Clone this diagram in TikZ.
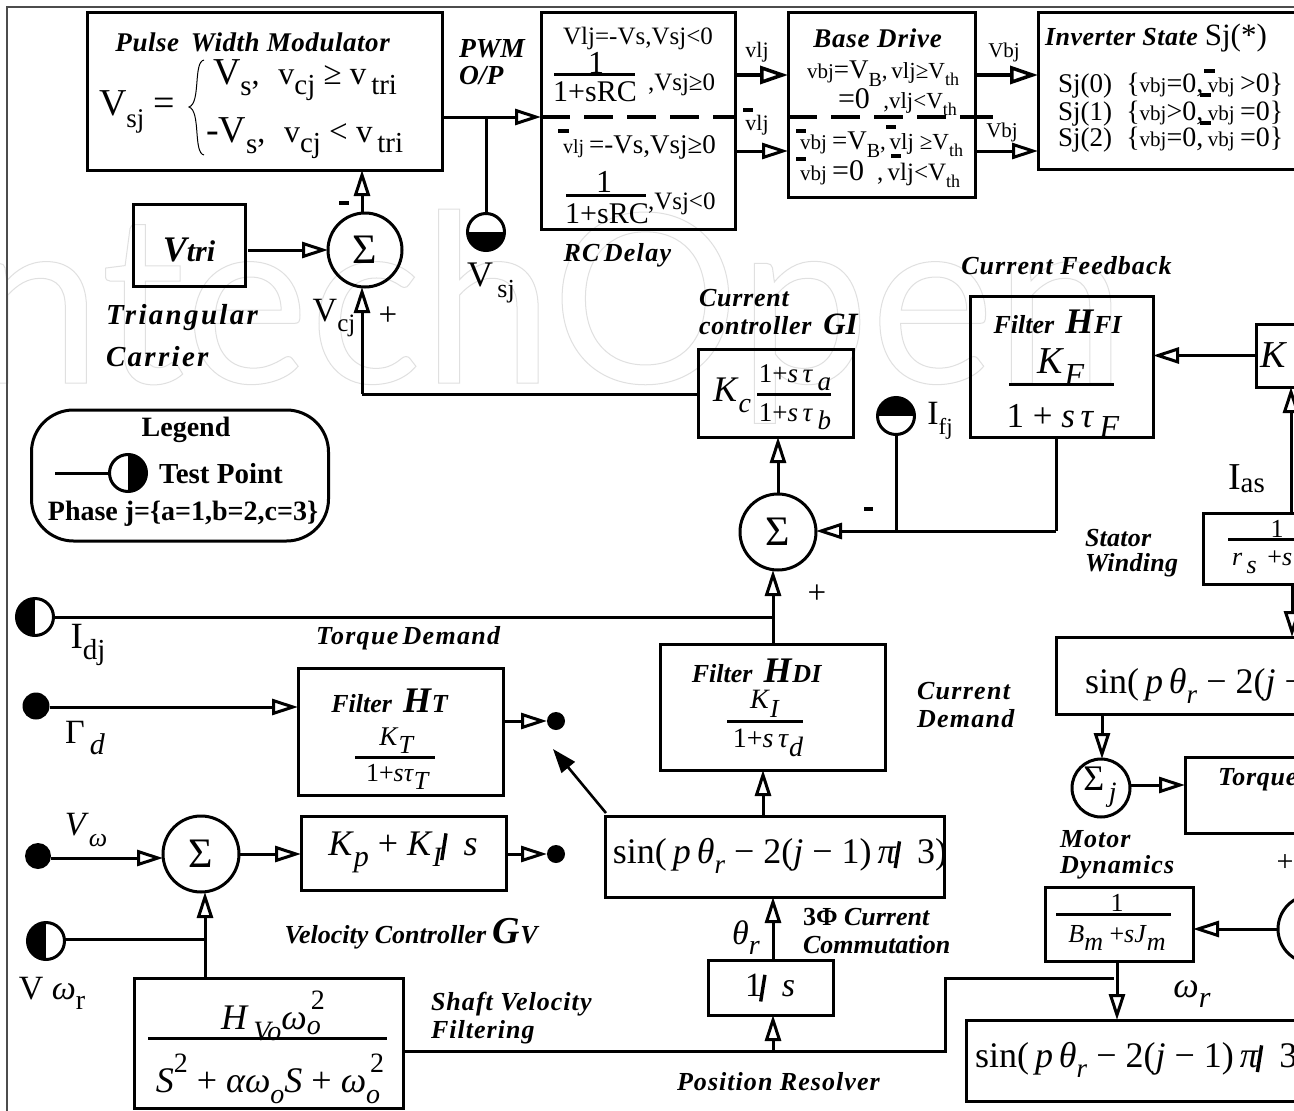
\documentclass[tikz,border=0pt]{standalone}
\usepackage{fontspec}
\setmainfont{Liberation Serif}
\newfontfamily\wmfont{Lato}
\usetikzlibrary{arrows.meta}
\newcommand\fz[1]{\fontsize{#1}{#1}\selectfont}
\newcommand\lo[2]{\raisebox{-.3em}{\fz{#1}#2}}
\newcommand\hi[2]{\raisebox{.55em}{\fz{#1}#2}}
\newcommand\bi[1]{\textbf{\textit{#1}}}
\newcommand\bl[2]{\textbf{\textit{\addfontfeatures{LetterSpace=#1}#2}}}
\newcommand\myslash{\hspace{-3pt}\rotatebox[origin=c]{-9}{\rule[-5pt]{3.4pt}{27pt}}\hspace{1pt}}
\tikzset{
 x=1pt,y=-1pt,
 blk/.style={draw,line width=3pt,inner sep=0pt,outer sep=0pt},
 sumn/.style={draw,circle,line width=3pt,inner sep=0pt,outer sep=0pt,font=\fz{42}},
 txt/.style={inner sep=0pt,outer sep=0pt,align=center},
 txl/.style={inner sep=0pt,outer sep=0pt,align=left,anchor=west},
 wire/.style={line width=3pt},
 arr/.style={line width=3pt,-{Triangle[open,length=26pt,width=16pt,line width=3pt]}},
 arrb/.style={line width=4.5pt,-{Triangle[open,length=28pt,width=18pt,line width=3.5pt]}},
 solidarr/.style={line width=2.6pt,-{Triangle[length=24pt,width=17pt]}},
 dsh/.style={line width=3.5pt,dash pattern=on 29pt off 14pt},
 fbar/.style={line width=3pt},
 ovb/.style={line width=3.2pt},
 tp/.style={draw,circle,line width=3pt,inner sep=0pt,outer sep=0pt,minimum size=37pt},
 tpb/.style={tp,path picture={\fill (path picture bounding box.west) rectangle (path picture bounding box.south east);}},
 tpu/.style={tp,path picture={\fill (path picture bounding box.north west) rectangle (path picture bounding box.east);}},
 tpl/.style={tp,path picture={\fill (path picture bounding box.north west) rectangle (path picture bounding box.south);}},
 tpr/.style={tp,path picture={\fill (path picture bounding box.north) rectangle (path picture bounding box.south east);}},
 dotn/.style={circle,fill=black,inner sep=0pt,outer sep=0pt},
 frame/.style={draw=black!70,line width=1.5pt}
}
\begin{document}
\begin{tikzpicture}
\clip (0,0) rectangle (1294,1111);
\fill[white] (0,0) rectangle (1294,1111);
% watermark
\node[anchor=base west,inner sep=0pt,text=black!14] (wm) at (-30,383) {\special{pdf:code q 1 Tr 1 w 0.88 0.88 0.88 RG}\wmfont\fz{236}ntechOpen\special{pdf:code Q}};
% frame
\coordinate (fa) at (7,1120); \coordinate (fb) at (7,7); \coordinate (fc) at (1300,7);
\draw[frame] (fa) -- (fb) -- (fc);

% boxes
\node[blk,minimum width=355pt,minimum height=158pt] (pwm) at (264.5,91) {};
\node[blk,minimum width=194pt,minimum height=217pt] (rc) at (638,120.5) {};
\node[blk,minimum width=187pt,minimum height=185pt] (bd) at (881.5,104.5) {};
\node[blk,minimum width=270pt,minimum height=157pt] (inv) at (1173,90.5) {};
\node[blk,minimum width=112pt,minimum height=82pt] (tri) at (189,245) {};
\node[sumn,minimum size=74pt] (s1) at (365,250) {Σ};
\node[tpb] (tpv) at (486,232) {};
\node[blk,minimum width=155pt,minimum height=88pt] (gi) at (775.5,393) {};
\node[blk,minimum width=183pt,minimum height=141pt] (hfi) at (1061.5,366.5) {};
\node[blk,minimum width=60pt,minimum height=63pt] (kb) at (1286,355.5) {};
\node[tpu] (tpi) at (896,416) {};
\node[sumn,minimum size=76pt] (s2) at (778,532) {Σ};
\node[blk,minimum width=120pt,minimum height=71pt] (st) at (1263,548.5) {};
\node[blk,minimum width=300pt,minimum height=77pt] (sr) at (1206,675.5) {};
\node[tpl] (tpd) at (35,617) {};
\node[blk,minimum width=225pt,minimum height=126pt] (hdi) at (772.5,707) {};
\node[blk,minimum width=205pt,minimum height=127pt] (ht) at (400.5,731.5) {};
\node[dotn,minimum size=27pt] (dg) at (36,706) {};
\node[dotn,minimum size=18pt] (dt) at (556,721) {};
\node[dotn,minimum size=26pt] (dw) at (38,856) {};
\node[sumn,minimum size=76pt] (s3) at (201,854) {Σ};
\node[blk,minimum width=205pt,minimum height=74pt] (kp) at (403.5,853) {};
\node[dotn,minimum size=18pt] (dk) at (556,854) {};
\node[tpl] (tpw) at (46,941) {};
\node[blk,minimum width=269pt,minimum height=130pt] (hv) at (268.5,1043) {};
\node[blk,minimum width=339pt,minimum height=81pt] (sm) at (774.5,856.5) {};
\node[blk,minimum width=125pt,minimum height=55pt] (int) at (770.5,987.5) {};
\node[sumn,minimum size=58pt] (s4) at (1101,788) {};
\node[blk,minimum width=150pt,minimum height=76pt] (tq) at (1260,795) {};
\node[blk,minimum width=148pt,minimum height=74pt] (md) at (1119,924) {};
\node[sumn,minimum size=68pt] (s5) at (1312,929) {};
\node[blk,minimum width=360pt,minimum height=81pt] (sb) at (1146,1060.5) {};
\node[draw,line width=3pt,rounded corners=42pt,inner sep=0pt,outer sep=0pt,minimum width=297pt,minimum height=131pt] (leg) at (180,475.5) {};
\node[tpr] (tpk) at (128,473) {};

% helper coordinates
\coordinate (j1) at (486,117);
\coordinate (rcw) at (541,117);
\coordinate (gil) at (362,394);
\coordinate (j2) at (1056,531);
\coordinate (j3) at (896,531);
\coordinate (j4) at (773,617);
\coordinate (hvo) at (403,1051);
\coordinate (j5) at (773,1051);
\coordinate (j6) at (945,1051);
\coordinate (j7) at (945,978);
\coordinate (j8) at (1114,978);
\coordinate (j9) at (205,939);
\coordinate (legw) at (55,473);
\coordinate (tail) at (606,813);
\coordinate (head) at (553,749);

% connectors
\draw[arr] (pwm.east |- j1) -- (rc.west |- j1);
\draw[wire] (j1) -- (tpv.north);
\draw[arr] (s1.north -| 362,0) -- (pwm.south -| 362,0);
\draw[arr] (tri.east) ++(3,5) -- (s1.west);
\draw[wire] (gi.west |- gil) -- (gil);
\draw[arr] (gil) -- (s1.south -| gil);
\draw[arrb] (rc.east |- 0,75) -- (bd.west |- 0,75);
\draw[arr] (rc.east |- 0,151) -- (bd.west |- 0,151);
\draw[arrb] (bd.east |- 0,75) -- (inv.west |- 0,75);
\draw[arr] (bd.east |- 0,151) -- (inv.west |- 0,151);
\draw[dsh] (rc.west |- j1) -- (rc.east |- j1);
\draw[dsh] (bd.west |- j1) -- (993,117);

\draw[arr] (kb.west) -- (hfi.east |- kb.west);
\draw[arr] (1291,513) -- (1291,387);
\draw[arr] (1292,584) -- (1292,637);
\draw[wire] (hfi.south -| j2) -- (j2);
\draw[arr] (j2) -- (s2.east |- j2);
\draw[wire] (j3) -- (tpi.south);
\draw[arr] (s2.north) -- (gi.south -| s2.north);
\draw[wire] (tpd.east) -- (j4);
\draw[arr] (hdi.north -| j4) -- (s2.south -| j4);
\draw[arr] (sm.north -| 763,0) -- (hdi.south -| 763,0);
\draw[solidarr] (tail) -- (head);
\draw[arr] (dg.east |- 0,707) -- (ht.west |- 0,707);
\draw[arr] (ht.east |- dt) ++(2,0) -- (dt.west);
\draw[arr] (dw.east |- 0,858) -- (s3.west |- 0,858);
\draw[arr] (s3.east) -- (kp.west |- s3.east);
\draw[arr] (kp.east |- dk) ++(2,0) -- (dk.west);
\draw[wire] (tpw.east |- j9) -- (j9);
\draw[arr] (hv.north -| j9) -- (s3.south -| j9);
\draw[wire] (hvo) -- (j6) -- (j7) -- (j8);
\draw[arr] (j5) -- (int.south -| j5);
\draw[arr] (int.north -| j5) -- (sm.south -| j5);
\draw[arr] (1102,716) -- (s4.north -| 1102,0);
\draw[arr] (s4.east |- 0,785) -- (tq.west |- 0,785);
\draw[arr] (s5.west) -- (md.east |- s5.west);
\draw[arr] (md.south -| 1117,0) -- (sb.north -| 1117,0);
\draw[wire] (legw) -- (tpk.west);

% text: top row
\node[txt] (t1) at (253,42) {\fz{27}\bl{2}{Pulse\, Width Modulator}};
\node[txl] (t2) at (99,112) {\fz{38}V\lo{27}{sj} =};
\draw[line width=1pt] (204,60) .. controls (193,62) and (201,103) .. (189,107) .. controls (201,111) and (193,153) .. (204,155);
\node[txl] (t3) at (213,80) {\fz{38}V\lo{29}{s}\fz{32},\, \,v\lo{29}{cj}\fz{33} ≥ v\lo{29}{\,tri}};
\node[txl] (t4) at (206,138) {\fz{38}-V\lo{29}{s}\fz{32},\, \,v\lo{29}{cj}\fz{33} < v\lo{29}{\,tri}};
\node[txl] (t5) at (459,49) {\fz{27.5}\bi{PWM}};
\node[txl] (t6) at (459,76) {\fz{27.5}\bi{O/P}};
\node[txt] (t7) at (638,38) {\fz{25}Vlj=-Vs,Vsj<0};
\node[txt] (t8) at (596,63) {\fz{32}1};
\draw[fbar] (554,74) -- (635,74);
\node[txt] (t9) at (595,92) {\fz{30}1+sRC};
\node[txl] (t10) at (648,85) {\fz{25},Vsj≥0};
\draw[ovb] (558,131) -- (569,131);
\node[txl] (t11) at (563,147) {\fz{20}vlj \fz{27}=-Vs,Vsj≥0};
\node[txt] (t12) at (604,182) {\fz{32}1};
\draw[fbar] (566,195) -- (646,195);
\node[txt] (t13) at (607,214) {\fz{30}1+sRC};
\node[txl] (t14) at (648,204) {\fz{25},Vsj<0};
\node[txt] (t15) at (618,255) {\fz{26}\bl{5}{RC\,Delay}};
\node[txt] (t16) at (491,283) {\fz{36}V\lo{26}{\,sj}};
\node[txt] (t17) at (757,52) {\fz{22}vlj};
\draw[ovb] (743,110) -- (753,110);
\node[txt] (t18) at (757,125) {\fz{22}vlj};
\node[txt] (t19) at (878,38) {\fz{27}\bl{3}{Base Drive}};
\node[txl] (t20) at (807,74) {\fz{21}vbj\fz{27}=V\lo{20}{B}\fz{23},\,vlj≥V\lo{18}{th}};
\node[txl] (t21) at (838,102) {\fz{30}=0\fz{23}\,\, ,vlj<V\lo{18}{th}};
\draw[ovb] (796,131) -- (806,131);
\draw[ovb] (886,127) -- (896,127);
\draw[ovb] (891,156) -- (901,156);
\draw[ovb] (796,159) -- (806,159);
\node[txl] (t22) at (800,145) {\fz{21}vbj \fz{27}=V\lo{20}{B}\fz{23},\,vlj ≥V\lo{18}{th}};
\node[txl] (t23) at (800,174) {\fz{21}vbj \fz{30}=0\fz{25}\; ,\,vlj<V\lo{18}{th}};
\node[txt] (t24) at (1004,52) {\fz{21}Vbj};
\draw[ovb] (982,117) -- (993,117);
\node[txt] (t25) at (1002,132) {\fz{21}Vbj};
\node[txl] (t26) at (1045,38) {\fz{26}\bl{2}{Inverter State} \fz{31}Sj(*)};
\draw[ovb] (1204,71) -- (1215,71);
\draw[ovb] (1200,95) -- (1211,95);
\draw[ovb] (1200,123) -- (1211,123);
\node[txl] (t27) at (1058,86) {\fz{27}Sj(0)\; \fz{28}\{\fz{21}vbj\fz{28}=0,\,\fz{21}vbj \fz{28}>0\}};
\node[txl] (t28) at (1058,114) {\fz{27}Sj(1)\; \fz{28}\{\fz{21}vbj\fz{28}>0,\,\fz{21}vbj \fz{28}=0\}};
\node[txl] (t29) at (1058,140) {\fz{27}Sj(2)\; \fz{28}\{\fz{21}vbj\fz{28}=0,\,\fz{21}vbj \fz{28}=0\}};

% upper-left
\node[txt] (t30) at (189,250) {\fz{36}\bi{V\fz{30}tri}};
\draw[ovb] (339,203) -- (349,203);
\node[txl] (t31) at (106,318) {\fz{29}\bl{8}{Triangular}};
\node[txl] (t32) at (106,357) {\fz{29}\bl{8}{Carrier}};
\node[txt] (t33) at (334,318) {\fz{34}V\lo{25}{cj}};
\node[txt] (t34) at (388,316) {\fz{33}+};
\node[txt] (t35) at (186,430) {\fz{28}\textbf{Legend}};
\node[txt] (t36) at (221,474) {\fz{29}\textbf{Test Point}};
\node[txt] (t37) at (183,514) {\fz{28}\textbf{Phase j=\{a=1,b=2,c=3\}}};

% current controller
\node[txl] (t38) at (699,298) {\fz{26}\bl{3}{Current}};
\node[txl] (t39) at (699,324) {\fz{26}\bl{3}{controller}\, \fz{31}\bi{GI}};
\node[txl] (t40) at (713,395) {\fz{36}\textit{K}\lo{28}{\textit{c}}};
\node[txt] (t41) at (795,378) {\fz{27}1+\textit{s}\,\textit{τ}\lo{27}{\textit{\,a}}};
\draw[fbar] (757,394) -- (831,394);
\node[txt] (t42) at (795,417) {\fz{27}1+\textit{s}\,\textit{τ}\lo{27}{\textit{\,b}}};
\node[txt] (t43) at (940,421) {\fz{34}I\lo{23}{fj}};
\draw[ovb] (864,509) -- (873,509);
\node[txt] (t44) at (817,594) {\fz{33}+};
\node[txt] (t45) at (1067,266) {\fz{26}\bl{4}{Current Feedback}};
\node[txt] (t46) at (1058,322) {\fz{26}\bi{Filter} \,\fz{36}\bi{H}\fz{26}\bi{FI}};
\node[txt] (t47) at (1061,367) {\fz{38}\textit{K}\lo{32}{\textit{F}}};
\draw[fbar] (1009,384) -- (1114,384);
\node[txt] (t48) at (1063,421) {\fz{35}1 + \textit{s\,τ}\lo{32}{\textit{\,F}}};
\node[txl] (t49) at (1260,355) {\fz{38}\textit{K}};
\node[txl] (t50) at (1228,479) {\fz{38}I\fz{29}\raisebox{-.1em}{as}};
\node[txl] (t51) at (1085,538) {\fz{26}\bl{1}{Stator}};
\node[txl] (t52) at (1085,565) {\fz{26}\bl{1}{Winding}};
\node[txt] (t53) at (1277,529) {\fz{26}1};
\draw[fbar] (1228,539) -- (1294,539);
\node[txl] (t54) at (1232,562) {\fz{26}\textit{r}\lo{26}{\textit{\,s}} \,+\textit{s}};
\node[txl] (t55) at (1085,686) {\fz{36}sin(\,\textit{p\,θ}\lo{27}{\textit{r}} − 2(\textit{j} −};

% lower-left
\node[txt] (t56) at (409,638) {\fz{26}\bl{5}{Torque\,Demand}};
\node[txt] (t57) at (88,645) {\fz{37}I\lo{29}{dj}};
\node[txt] (t58) at (85,738) {\fz{34}Γ\lo{30}{\textit{\,d}}};
\node[txt] (t59) at (390,701) {\fz{26}\bi{Filter} \,\fz{36}\bi{H}\fz{26}\bi{T}};
\node[txt] (t60) at (397,741) {\fz{27}\textit{K}\lo{26}{\textit{T}}};
\draw[fbar] (355,757) -- (435,757);
\node[txt] (t61) at (398,777) {\fz{26}1+\textit{sτ}\lo{26}{\textit{T}}};
\node[txt] (t62) at (86,830) {\fz{34}\textit{V}\lo{26}{\textit{ω}}};
\node[txt] (t63) at (403,852) {\fz{36}\textit{K}\lo{30}{\textit{p}} + \textit{K}\lo{28}{\textit{I}}\myslash\, \textit{s}};
\node[txt] (t64) at (412,934) {\fz{26}\bi{Velocity Controller} \fz{38}\textbf{\textit{G}}\fz{26}\bi{V}};
\node[txt] (t65) at (52,993) {\fz{34}V \textit{ω}\lo{28}{r}};
\node[txt] (t66) at (273,1016) {\fz{36}\textit{H}\lo{28}{\,\textit{Vo}}\textit{ω}\raisebox{-.15em}{\fz{28}\textit{o}}\hspace{-10pt}\hi{28}{2}};
\draw[fbar] (148,1038) -- (387,1038);
\node[txt] (t67) at (270,1079) {\fz{36}\textit{S}\hi{28}{2} + \textit{αω}\lo{28}{\textit{o}}\textit{S} + \textit{ω}\lo{28}{\textit{o}}\hspace{-10pt}\hi{28}{2}};
\node[txl] (t68) at (431,1004) {\fz{26}\bl{4}{Shaft Velocity}};
\node[txl] (t69) at (431,1032) {\fz{26}\bl{4}{Filtering}};

% middle
\node[txt] (t70) at (757,671) {\fz{26}\bi{Filter} \,\fz{36}\bi{H}\fz{26}\bi{DI}};
\node[txt] (t71) at (765,704) {\fz{28}\textit{K}\lo{26}{\textit{I}}};
\draw[fbar] (727,721) -- (803,721);
\node[txt] (t72) at (768,743) {\fz{28}1+\textit{s\,τ}\lo{28}{\textit{d}}};
\node[txl] (t73) at (917,691) {\fz{26}\bl{5}{Current}};
\node[txl] (t74) at (917,719) {\fz{26}\bl{5}{Demand}};
\node[txt] (t75) at (780,856) {\fz{36}sin(\,\textit{p\,θ}\lo{27}{\textit{r}} − 2(\textit{j} − 1)\,\textit{π}\myslash\, 3)};
\node[txl] (t76) at (803,917) {\fz{26}\textbf{3Φ} \bi{Current}};
\node[txl] (t77) at (803,945) {\fz{26}\bi{Commutation}};
\node[txt] (t78) at (746,938) {\fz{34}\textit{θ}\lo{28}{\textit{r}}};
\node[txt] (t79) at (770,988) {\fz{34}1\myslash\, \textit{s}};
\node[txt] (t80) at (779,1082) {\fz{26}\bl{4}{Position Resolver}};

% lower-right
\node[txt] (t81) at (1100,787) {\fz{36}Σ\lo{28}{\textit{\,j}}};
\node[txl] (t82) at (1218,780) {\fz{26}\bl{3}{Torque}};
\node[txl] (t83) at (1060,839) {\fz{26}\bl{4}{Motor}};
\node[txl] (t84) at (1060,867) {\fz{26}\bl{4}{Dynamics}};
\node[txt] (t85) at (1285,863) {\fz{30}+};
\node[txt] (t86) at (1117,903) {\fz{26}1};
\draw[fbar] (1056,914) -- (1171,914);
\node[txt] (t87) at (1117,938) {\fz{26}\textit{B}\lo{26}{\textit{m}} +\textit{sJ}\lo{26}{\textit{m}}};
\node[txt] (t88) at (1192,994) {\fz{36}\textit{ω}\lo{30}{\textit{r}}};
\node[txl] (t89) at (975,1060) {\fz{36}sin(\,\textit{p\,θ}\lo{27}{\textit{r}} − 2(\textit{j} − 1)\,\textit{π}\myslash\, 3)};
\end{tikzpicture}
\end{document}
